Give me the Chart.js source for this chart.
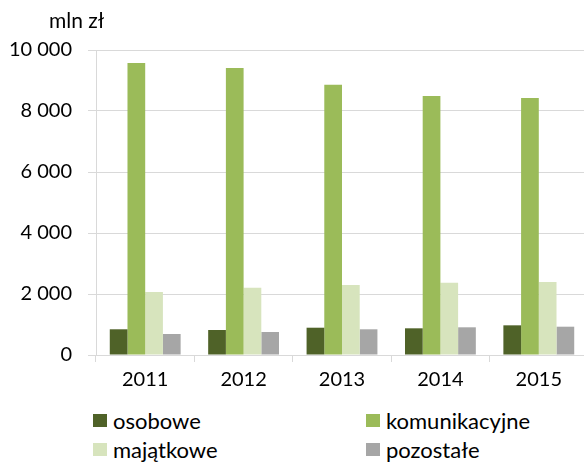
<!DOCTYPE html>
<html>
<head>
<meta charset="utf-8">
<script src="https://cdn.jsdelivr.net/npm/chart.js@4/dist/chart.umd.min.js"></script>
<style>
  html, body { margin: 0; padding: 0; background: #fff; overflow: hidden; }
  #wrap { position: relative; width: 584px; height: 462px; overflow: hidden; }
  #myChart { position: absolute; left: 0; top: 0; }
  #legend { position: absolute; left: 93px; top: 410px; font-family: Lato, sans-serif; font-size: 22px; color: #000; }
  .item { position: absolute; display: flex; align-items: center; white-space: nowrap; height: 20px; }
  .box { width: 14px; height: 13px; margin-right: 6px; }
</style>
</head>
<body>
<div id="wrap">
  <canvas id="myChart" width="588" height="400"></canvas>
  <div id="legend"></div>
</div>
<script>
var years = ["2011", "2012", "2013", "2014", "2015"];
var osobowe = [843, 820, 895, 875, 973];
var komunikacyjne = [9574, 9410, 8863, 8492, 8426];
var majatkowe = [2066, 2207, 2295, 2371, 2393];
var pozostale = [689, 754, 843, 908, 928];
var seriesNames = ["osobowe", "komunikacyjne", "majątkowe", "pozostałe"];
var seriesColors = ["#4f6228", "#9bbb59", "#d7e4bd", "#a6a6a6"];
var yTicks = [0, 2000, 4000, 6000, 8000, 10000];

function fmt(v) {
  return String(v).replace(/\B(?=(\d{3})+(?!\d))/g, " ");
}

// unit label above the value axis
var unitLabel = {
  id: "unitLabel",
  afterDraw: function (chart) {
    var c = chart.ctx;
    c.save();
    c.font = "21px Lato";
    c.fillStyle = "#000";
    c.textAlign = "left";
    c.textBaseline = "middle";
    c.fillText("mln zł", 49, 21);
    c.restore();
  },
};

var ctx1 = document.getElementById("myChart").getContext("2d");
var myChart1 = new Chart(ctx1, {
  type: "bar",
  data: {
    labels: years,
    datasets: [osobowe, komunikacyjne, majatkowe, pozostale].map(function (d, i) {
      return {
        label: seriesNames[i],
        data: d,
        backgroundColor: seriesColors[i],
        borderWidth: 0,
        barPercentage: 1,
        categoryPercentage: 0.72,
      };
    }),
  },
  options: {
    responsive: false,
    animation: false,
    layout: { padding: { top: 50, left: 0, right: 0, bottom: 0 } },
    plugins: { legend: { display: false }, tooltip: { enabled: false } },
    scales: {
      x: {
        grid: { drawOnChartArea: false, color: "#d9d9d9", tickLength: 7 },
        border: { color: "#d9d9d9" },
        ticks: { color: "#000", font: { family: "Lato", size: 20 }, padding: 6 },
        afterFit: function (s) { s.height = 45; },
      },
      y: {
        min: 0,
        max: 10000,
        afterBuildTicks: function (s) {
          s.ticks = yTicks.map(function (v) { return { value: v }; });
        },
        grid: { color: "#d9d9d9", tickLength: 8 },
        border: { color: "#d9d9d9" },
        ticks: {
          color: "#000",
          font: { family: "Lato", size: 20 },
          padding: 16,
          callback: function (v) { return fmt(v); },
        },
        afterFit: function (s) { s.width = 96; },
      },
    },
  },
  plugins: [unitLabel],
});

// legend in two columns under the chart
var legend = document.getElementById("legend");
seriesNames.forEach(function (name, i) {
  var item = document.createElement("div");
  item.className = "item";
  item.style.left = (i % 2) * 273 + "px";
  item.style.top = Math.floor(i / 2) * 29 + "px";
  var box = document.createElement("span");
  box.className = "box";
  box.style.background = seriesColors[i];
  var txt = document.createElement("span");
  txt.textContent = name;
  item.appendChild(box);
  item.appendChild(txt);
  legend.appendChild(item);
});
</script>
</body>
</html>
